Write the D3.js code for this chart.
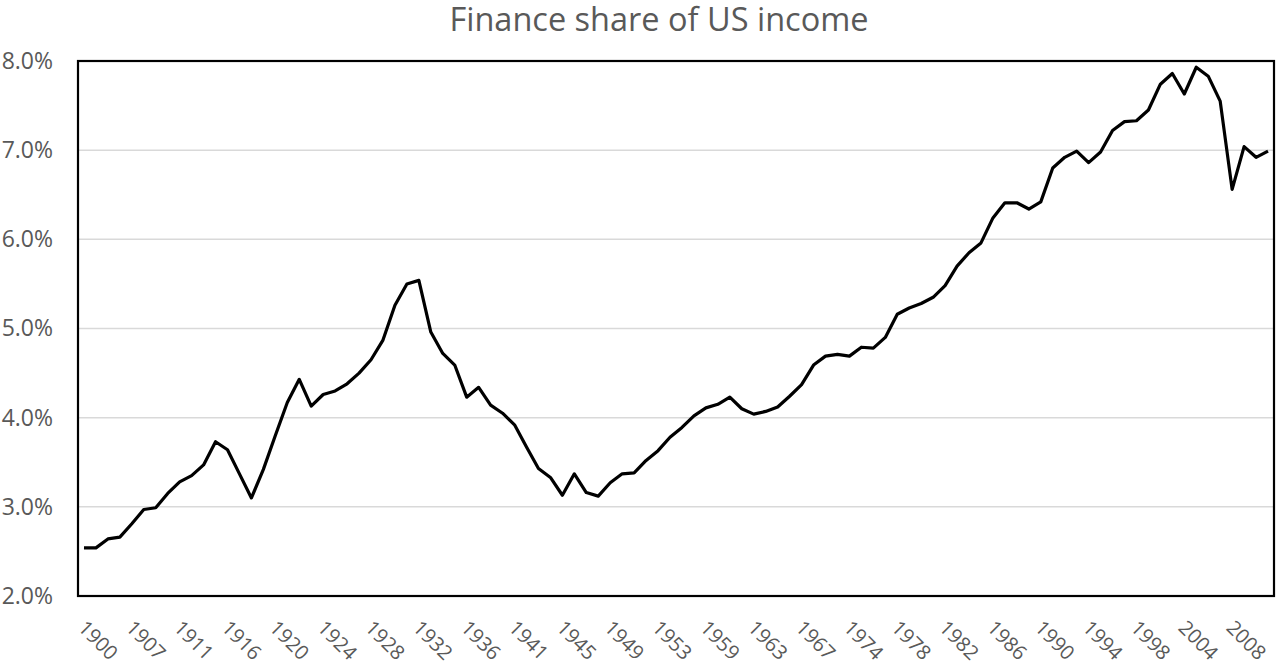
<!DOCTYPE html>
<html>
<head>
<meta charset="utf-8">
<script src="https://cdn.jsdelivr.net/npm/d3@7"></script>
<style>
  body { margin: 0; background: #fff; }
  text { font-family: "Open Sans", Lato, sans-serif; fill: #595959; }
</style>
</head>
<body>
<div id="chart"></div>
<script>
// years on the category axis (some years are missing in the source series)
const years = [
  1900, 1901, 1903, 1905, 1907, 1908, 1909, 1910, 1911, 1912,
  1913, 1914, 1916, 1917, 1918, 1919, 1920, 1921, 1922, 1923,
  1924, 1925, 1926, 1927, 1928, 1929, 1930, 1931, 1932, 1933,
  1934, 1935, 1936, 1937, 1938, 1939, 1941, 1942, 1943, 1944,
  1945, 1946, 1947, 1948, 1949, 1950, 1951, 1952, 1953, 1954,
  1956, 1957, 1959, 1960, 1961, 1962, 1963, 1964, 1965, 1966,
  1967, 1969, 1971, 1972, 1974, 1975, 1976, 1977, 1978, 1979,
  1980, 1981, 1982, 1983, 1984, 1985, 1986, 1987, 1988, 1989,
  1990, 1991, 1992, 1993, 1994, 1995, 1996, 1997, 1998, 1999,
  2001, 2002, 2004, 2005, 2006, 2007, 2008, 2009, 2010, 2011
];

// finance share of income, percent
const share = [
  2.54, 2.54, 2.64, 2.66, 2.81, 2.97, 2.99, 3.15, 3.28, 3.35,
  3.47, 3.73, 3.64, 3.37, 3.10, 3.42, 3.80, 4.17, 4.43, 4.13,
  4.26, 4.30, 4.38, 4.50, 4.65, 4.87, 5.26, 5.50, 5.54, 4.96,
  4.72, 4.59, 4.23, 4.34, 4.14, 4.05, 3.92, 3.67, 3.43, 3.33,
  3.13, 3.37, 3.16, 3.12, 3.27, 3.37, 3.38, 3.52, 3.63, 3.78,
  3.89, 4.02, 4.11, 4.15, 4.23, 4.10, 4.04, 4.07, 4.12, 4.24,
  4.37, 4.59, 4.69, 4.71, 4.69, 4.79, 4.78, 4.90, 5.16, 5.23,
  5.28, 5.35, 5.48, 5.70, 5.85, 5.96, 6.24, 6.41, 6.41, 6.34,
  6.42, 6.80, 6.92, 6.99, 6.86, 6.98, 7.22, 7.32, 7.33, 7.45,
  7.74, 7.86, 7.63, 7.93, 7.83, 7.55, 6.56, 7.04, 6.92, 6.99
];

const xTickYears = [1900, 1907, 1911, 1916, 1920, 1924, 1928, 1932, 1936, 1941,
  1945, 1949, 1953, 1959, 1963, 1967, 1974, 1978, 1982, 1986, 1990, 1994,
  1998, 2004, 2008];
const yTicks = [2, 3, 4, 5, 6, 7, 8];

const width = 1276, height = 668;
const margins = {top: 61, right: 2, bottom: 72, left: 78};
const innerWidth = width - margins.left - margins.right;
const innerHeight = height - margins.top - margins.bottom;

const svg = d3.select('#chart')
  .append('svg')
    .attr('width', width)
    .attr('height', height);

svg.append('text')
  .attr('x', 659)
  .attr('y', 31)
  .attr('text-anchor', 'middle')
  .style('font-size', '32.5px')
  .text('Finance share of US income');

const g = svg.append('g')
  .attr('transform', `translate(${margins.left}, ${margins.top})`);

const xScale = d3.scaleBand()
  .domain(years)
  .range([0, innerWidth])
  .padding(0);

const yScale = d3.scaleLinear()
  .domain([2, 8])
  .range([innerHeight, 0]);

// gridlines
g.append('g')
  .selectAll('line')
  .data(yTicks.slice(1, -1))
  .join('line')
    .attr('x1', 0)
    .attr('x2', innerWidth)
    .attr('y1', d => yScale(d))
    .attr('y2', d => yScale(d))
    .attr('stroke', '#d9d9d9')
    .attr('stroke-width', 1.5);

// y axis labels
const yAxis = g.append('g')
  .call(d3.axisLeft(yScale).tickValues(yTicks).tickFormat(d => d.toFixed(1) + '%').tickSize(0).tickPadding(25));
yAxis.select('.domain').remove();
yAxis.selectAll('text')
  .style('font-size', '23px')
  .attr('fill', '#595959');

// x axis labels, rotated
const xAxis = g.append('g')
  .attr('transform', `translate(0, ${innerHeight})`)
  .call(d3.axisBottom(xScale).tickValues(xTickYears).tickSize(0));
xAxis.select('.domain').remove();
xAxis.selectAll('text')
  .style('font-size', '20px')
  .attr('fill', '#595959')
  .attr('text-anchor', 'start')
  .attr('dy', 0)
  .attr('y', 0)
  .attr('transform', 'translate(-7, 33) rotate(45)');

// the line
const line = d3.line()
  .x((d, i) => xScale(years[i]) + xScale.bandwidth() / 2)
  .y(d => yScale(d));

g.append('path')
  .datum(share)
  .attr('fill', 'none')
  .attr('stroke', '#000')
  .attr('stroke-width', 3.2)
  .attr('stroke-linejoin', 'round')
  .attr('d', line);

// plot area border
g.append('rect')
  .attr('x', 0)
  .attr('y', 0)
  .attr('width', innerWidth)
  .attr('height', innerHeight)
  .attr('fill', 'none')
  .attr('stroke', '#000')
  .attr('stroke-width', 2.2);
</script>
</body>
</html>
